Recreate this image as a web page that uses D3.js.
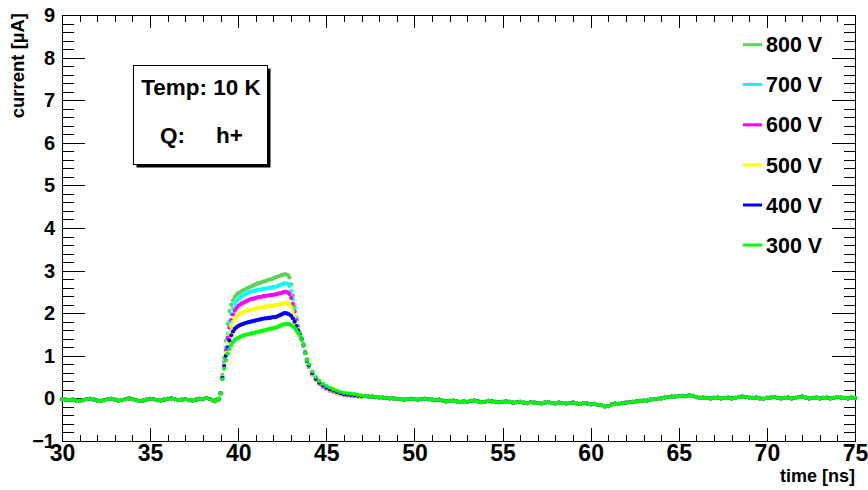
<!DOCTYPE html>
<html><head><meta charset="utf-8">
<script src="https://cdn.jsdelivr.net/npm/d3@7"></script>
<style>
html,body{margin:0;padding:0;background:#fff;}
text{font-family:"Liberation Sans",Arial,Helvetica,sans-serif;font-weight:bold;}
</style></head>
<body><svg id="c" width="868" height="490"></svg>
<script>
// ---------------- data ----------------
const seriesLabels = ["800 V","700 V","600 V","500 V","400 V","300 V"];
const seriesColors = ["#59d454","#00ffff","#ff00ff","#ffff00","#0000ff","#00ff00"];
const xTickLabels = [30,35,40,45,50,55,60,65,70,75];
const yTickLabels = [-1,0,1,2,3,4,5,6,7,8,9];

// sampling grids (ns)
const tPre = d3.range(0,44).map(i => +(30.0 + i*0.2).toFixed(2));          // 30.0 .. 38.6
const tPulse = d3.range(0,53).map(i => +(38.7 + i*0.1).toFixed(2))         // 38.7 .. 43.9
  .concat(d3.range(0,16).map(i => +(44.0 + i*0.2).toFixed(2)));            // 44.0 .. 47.0
const tPost = d3.range(0,140).map(i => +(47.2 + i*0.2).toFixed(2));        // 47.2 .. 75.0

// common baseline before the pulse (µA)
const basePre = [-0.02,-0.03,-0.04,-0.03,-0.05,-0.06,-0.04,-0.02,-0.01,-0.03,
  -0.05,-0.06,-0.04,-0.02,-0.01,-0.03,-0.05,-0.04,-0.02,0.0,
  -0.02,-0.04,-0.06,-0.05,-0.03,-0.01,-0.02,-0.04,-0.05,-0.03,
  -0.01,0.0,-0.02,-0.04,-0.03,-0.02,-0.04,-0.05,-0.03,-0.01,
  -0.02,0.01,-0.02,-0.05];

// common baseline after the pulse (µA)
const basePost = [0.05,0.04,0.04,0.03,0.02,0.02,0.01,0.0,0.0,-0.01,
  -0.02,-0.03,-0.02,-0.01,-0.02,-0.03,-0.02,-0.01,-0.02,-0.03,
  -0.04,-0.03,-0.05,-0.07,-0.06,-0.05,-0.07,-0.08,-0.07,-0.08,
  -0.06,-0.05,-0.07,-0.09,-0.08,-0.06,-0.07,-0.08,-0.09,-0.08,
  -0.07,-0.08,-0.1,-0.09,-0.08,-0.1,-0.11,-0.09,-0.1,-0.11,
  -0.12,-0.1,-0.09,-0.11,-0.12,-0.1,-0.11,-0.12,-0.11,-0.1,
  -0.12,-0.13,-0.11,-0.12,-0.14,-0.13,-0.15,-0.16,-0.19,-0.18,
  -0.14,-0.12,-0.13,-0.11,-0.1,-0.09,-0.08,-0.07,-0.06,-0.05,
  -0.05,-0.03,-0.02,-0.01,0.0,0.02,0.03,0.04,0.04,0.05,
  0.06,0.05,0.07,0.06,0.03,0.01,0.02,0.01,0.0,0.01,
  0.02,0.0,0.01,0.02,0.0,0.01,0.03,0.04,0.03,0.02,
  0.01,0.02,0.0,-0.01,0.01,0.02,0.03,0.01,0.0,0.01,
  0.02,0.0,0.01,0.03,0.04,0.02,0.0,0.01,0.02,0.0,
  0.01,0.02,0.0,0.01,0.03,0.02,0.01,0.0,0.02,0.01];

// per-series pulse values on tPulse (µA)
const pulse800 = [-0.06,-0.04,-0.02,0.12,0.55,0.95,1.35,1.75,2.05,2.2,2.3,2.38,2.43,2.47,
  2.49,2.52,2.54,2.56,2.59,2.6,2.62,2.64,2.66,2.68,2.7,2.71,2.72,2.74,2.75,2.76,2.78,2.79,2.8,
  2.82,2.84,2.85,2.87,2.88,2.9,2.91,2.91,2.9,2.84,2.68,2.42,2.15,1.9,1.7,1.55,1.42,1.28,1.1,0.92,
  0.78,0.6,0.47,0.38,0.31,0.26,0.22,0.19,0.16,0.13,0.11,0.1,0.09,0.08,0.07,0.06];
const pulse700 = [-0.06,-0.04,-0.02,0.12,0.5,0.85,1.2,1.52,1.8,1.98,2.12,2.22,2.28,2.33,
  2.37,2.4,2.43,2.45,2.47,2.49,2.5,2.52,2.52,2.53,2.55,2.55,2.56,2.57,2.58,2.58,2.59,2.6,2.6,
  2.61,2.62,2.63,2.65,2.66,2.68,2.7,2.7,2.69,2.64,2.52,2.33,2.1,1.88,1.68,1.54,1.41,1.27,1.09,0.91,
  0.76,0.58,0.45,0.36,0.29,0.24,0.2,0.17,0.14,0.11,0.09,0.08,0.07,0.06,0.05,0.04];
const pulse600 = [-0.07,-0.05,-0.03,0.11,0.5,0.82,1.12,1.42,1.66,1.84,1.97,2.06,2.12,2.17,
  2.2,2.23,2.25,2.27,2.29,2.31,2.33,2.34,2.34,2.36,2.37,2.38,2.38,2.4,2.4,2.41,2.42,2.42,2.43,
  2.43,2.44,2.45,2.46,2.47,2.48,2.5,2.5,2.49,2.45,2.36,2.22,2.04,1.84,1.66,1.53,1.4,1.26,1.08,0.9,
  0.74,0.56,0.43,0.34,0.27,0.22,0.18,0.15,0.12,0.1,0.08,0.07,0.06,0.05,0.04,0.03];
const pulse500 = [-0.07,-0.05,-0.03,0.11,0.5,0.8,1.07,1.32,1.53,1.68,1.8,1.88,1.93,1.97,
  1.99,2.01,2.03,2.04,2.06,2.07,2.08,2.09,2.1,2.11,2.12,2.12,2.13,2.15,2.15,2.16,2.16,2.17,2.17,
  2.18,2.19,2.19,2.2,2.21,2.23,2.24,2.25,2.24,2.21,2.14,2.04,1.92,1.78,1.64,1.52,1.39,1.25,1.07,0.89,
  0.75,0.57,0.44,0.35,0.28,0.23,0.19,0.16,0.13,0.1,0.09,0.08,0.07,0.06,0.04,0.03];
const pulse400 = [-0.05,-0.03,-0.01,0.12,0.48,0.76,1.0,1.2,1.36,1.48,1.57,1.63,1.67,1.7,
  1.72,1.74,1.75,1.77,1.78,1.79,1.8,1.81,1.82,1.83,1.84,1.85,1.86,1.87,1.88,1.88,1.89,1.89,1.9,
  1.91,1.91,1.92,1.94,1.96,1.98,2.0,2.0,1.99,1.97,1.94,1.88,1.8,1.7,1.6,1.5,1.38,1.24,1.06,0.88,
  0.77,0.59,0.46,0.37,0.3,0.25,0.21,0.18,0.15,0.12,0.1,0.09,0.08,0.07,0.06,0.05];
const pulse300 = [-0.05,-0.03,0.0,0.12,0.45,0.7,0.9,1.05,1.16,1.25,1.32,1.37,1.4,1.42,
  1.44,1.46,1.48,1.49,1.5,1.51,1.52,1.53,1.54,1.55,1.56,1.57,1.58,1.59,1.6,1.61,1.62,1.63,1.64,
  1.65,1.66,1.67,1.69,1.71,1.73,1.74,1.75,1.75,1.74,1.72,1.69,1.65,1.59,1.53,1.47,1.37,1.24,1.06,0.9,
  0.8,0.63,0.5,0.41,0.34,0.29,0.25,0.21,0.18,0.15,0.13,0.12,0.11,0.1,0.08,0.07];
const pulses = [pulse800,pulse700,pulse600,pulse500,pulse400,pulse300];

// ---------------- layout ----------------
const svg = d3.select("#c");
const L = 62, R = 855, T = 15, B = 441;
const x = d3.scaleLinear().domain([30,75]).range([L,R]);
const y = d3.scaleLinear().domain([-1,9]).range([B,T]);

const xMinor = d3.range(30,75.01,1);
const yMinor = d3.range(-1,9.01,0.2).map(v=>+v.toFixed(2));

function style(g){ g.selectAll("path,line").attr("stroke","#000").attr("stroke-width",1).attr("shape-rendering","crispEdges"); g.select(".domain").remove(); }

// bottom
svg.append("g").attr("transform",`translate(0,${B})`).call(d3.axisBottom(x).tickValues(xMinor).tickSize(-6.5).tickSizeOuter(0).tickFormat("")).call(style);
const gxb = svg.append("g").attr("transform",`translate(0,${B})`).call(d3.axisBottom(x).tickValues(xTickLabels).tickSize(-13).tickSizeOuter(0).tickPadding(4).tickFormat(d3.format("d"))).call(style);
gxb.selectAll("text").attr("font-size",23).attr("fill","#000");
// top
svg.append("g").attr("transform",`translate(0,${T})`).call(d3.axisTop(x).tickValues(xMinor).tickSize(-6.5).tickSizeOuter(0).tickFormat("")).call(style);
svg.append("g").attr("transform",`translate(0,${T})`).call(d3.axisTop(x).tickValues(xTickLabels).tickSize(-13).tickSizeOuter(0).tickFormat("")).call(style);
// left
svg.append("g").attr("transform",`translate(${L},0)`).call(d3.axisLeft(y).tickValues(yMinor).tickSize(-11.5).tickSizeOuter(0).tickFormat("")).call(style);
const gyl = svg.append("g").attr("transform",`translate(${L},0)`).call(d3.axisLeft(y).tickValues(yTickLabels).tickSize(-23).tickSizeOuter(0).tickPadding(7).tickFormat(d3.format("d"))).call(style);
gyl.selectAll("text").attr("font-size",20).attr("fill","#000");
// right
svg.append("g").attr("transform",`translate(${R},0)`).call(d3.axisRight(y).tickValues(yMinor).tickSize(-11.5).tickSizeOuter(0).tickFormat("")).call(style);
svg.append("g").attr("transform",`translate(${R},0)`).call(d3.axisRight(y).tickValues(yTickLabels).tickSize(-23).tickSizeOuter(0).tickFormat("")).call(style);

// frame
svg.append("rect").attr("x",L).attr("y",T).attr("width",R-L).attr("height",B-T)
  .attr("fill","none").attr("stroke","#000").attr("stroke-width",1).attr("shape-rendering","crispEdges");

// axis titles
svg.append("text").attr("x",R).attr("y",482).attr("text-anchor","end").attr("font-size",18).text("time [ns]");
svg.append("text").attr("transform",`translate(24,${T-2}) rotate(-90)`).attr("text-anchor","end").attr("font-size",18.5).text("current [\u00b5A]");

// ---------------- data points ----------------
const plot = svg.append("g");
pulses.forEach((p,i)=>{
  const pts = tPre.map((t,k)=>[t,basePre[k]])
    .concat(tPulse.map((t,k)=>[t,p[k]]))
    .concat(tPost.map((t,k)=>[t,basePost[k]]));
  plot.append("g").selectAll("circle").data(pts).join("circle")
    .attr("cx",d=>x(d[0])).attr("cy",d=>y(d[1])).attr("r",2.1)
    .attr("fill",seriesColors[i]);
});

// ---------------- legend ----------------
const legY = [44.7,84.5,124.8,165,205,245];
seriesLabels.forEach((lab,i)=>{
  svg.append("line").attr("x1",743).attr("x2",762).attr("y1",legY[i]).attr("y2",legY[i])
    .attr("stroke",seriesColors[i]).attr("stroke-width",3);
  svg.append("text").attr("x",766).attr("y",legY[i]+7.5).attr("font-size",21.5).text(lab);
});

// ---------------- text box ----------------
svg.append("rect").attr("x",136.5).attr("y",68.5).attr("width",134).attr("height",99).attr("fill","#000");
svg.append("rect").attr("x",133.5).attr("y",65.5).attr("width",134).attr("height",99)
  .attr("fill","#fff").attr("stroke","#000").attr("stroke-width",1);
svg.append("text").attr("x",201).attr("y",95).attr("text-anchor","middle").attr("font-size",22.5).text("Temp: 10 K");
svg.append("text").attr("x",160).attr("y",143).attr("font-size",22.5).text("Q:");
svg.append("text").attr("x",216).attr("y",143).attr("font-size",22.5).text("h+");
</script></body></html>
